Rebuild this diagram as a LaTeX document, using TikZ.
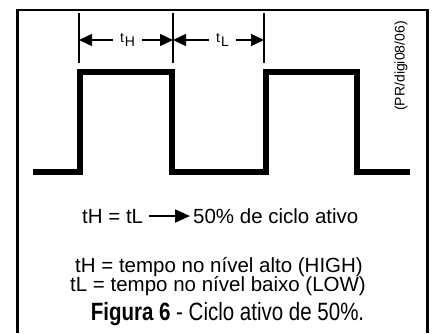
\documentclass[tikz,border=0pt]{standalone}
\usepackage{fontspec}
\setmainfont{Liberation Sans}
\newfontfamily\narrowfont[FakeStretch=0.82]{Liberation Sans}
\usetikzlibrary{arrows.meta, positioning}

\tikzset{
  onda/.style={line width=5.5pt, line join=miter},
  marca/.style={line width=1.2pt},
  cota/.style={line width=1.5pt, -{Triangle[length=13pt,width=12pt]}},
  seta/.style={line width=2pt, -{Triangle[length=15pt,width=13pt]}, shorten <=6pt, shorten >=3pt},
  rotulo/.style={font=\fontsize{14}{14}\selectfont, inner xsep=7pt, inner ysep=1pt},
  texto/.style={font=\fontsize{20.5}{20.5}\selectfont, inner sep=0pt, anchor=base},
}

\begin{document}
\begin{tikzpicture}[x=1pt, y=-1pt]
\useasboundingbox (0,0) rectangle (432,333);
% moldura
\draw[line width=2.5pt] (17.5,333) -- (17.5,10) -- (427.5,10) -- (427.5,333);
% onda quadrada
\draw[onda] (33,172) -- (80,172) -- (80,72) -- (172,72) -- (172,172)
  -- (266,172) -- (266,72) -- (357,72) -- (357,172) -- (410,172);
% marcas de tempo
\foreach \n/\x in {a/79, b/173, c/264} {
  \draw[marca] (\x,13) -- (\x,63);
  \coordinate (m\n) at (\x,40);
}
\node[rotulo] (tH) at (127.5,40) {t\kern1pt\raisebox{-4pt}{H}};
\node[rotulo] (tL) at (222.5,40) {t\kern1pt\raisebox{-4pt}{L}};
\draw[cota] (tH.west) -- (ma);
\draw[cota] (tH.east) -- (mb);
\draw[cota] (tL.west) -- (mb);
\draw[cota] (tL.east) -- (mc);
\node[rotate=90, font=\fontsize{14}{14}\selectfont] (ref) at (401,66) {(PR/digi08/06)};
% textos
\node[texto, anchor=base west] (igual) at (82,223) {tH = tL};
\node[texto, anchor=base west] (ciclo) at (193,223) {50\% de ciclo ativo};
\draw[seta] (igual.east) -- (igual.east -| ciclo.west);
\node[texto] (alto) at (219,272) {tH = tempo no nível alto (HIGH)};
\node[texto] (baixo) at (218,291) {tL = tempo no nível baixo (LOW)};
\node[font=\narrowfont\fontsize{25}{25}\selectfont, anchor=base, inner sep=0pt] (legenda) at (227.5,320)
  {\textbf{Figura 6} - Ciclo ativo de 50\%.};
\end{tikzpicture}
\end{document}
